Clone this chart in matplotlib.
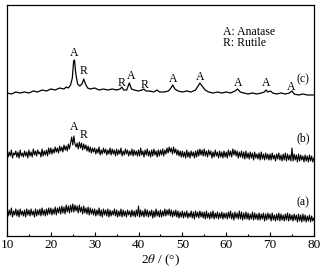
import matplotlib
matplotlib.use("Agg")
import matplotlib.pyplot as plt
from matplotlib.ticker import MultipleLocator

plt.rcParams['font.family'] = ['Liberation Serif', 'DejaVu Serif']
plt.rcParams['mathtext.fontset'] = 'stix'

# (c) trace
xc = [10,11,12,13,14,15,16,17,18,19,20,21,22,23,23.5,24,24.5,24.9,25.2,25.4,25.7,26.1,26.6,27.1,27.5,27.9,28.4,29,30,31,32,33,34,35,35.8,36.2,36.6,37.3,37.9,38.4,39,40,40.8,41.2,41.7,42.5,43.5,44.2,44.8,45.8,46.8,47.4,47.8,48.3,49,50,51,52,53,53.6,54,54.5,55.2,56,57,58,59,60,61,62,62.6,63.2,64,65,66,67,68,68.7,69.1,69.5,70.1,70.6,71.5,72.5,73.5,74.4,75,75.5,76.5,77.5,78.5,79.5,80]
yc = [143,142,144,143,144,143,145,144,146,145,147,146,148,147,149,148,151,158,175,176,162,152,150,152,157,152,148,147,148,146,147,146,147,146,147,149,146,146,153,147,146,145,146,147,145,145,144,146,144,144,145,148,151,147,145,144,145,144,146,150,153,150,146,144,143,144,143,144,143,145,147,144,143,142,143,142,143,144,146,144,145,143,142,143,142,143,145,142,141,142,141,141,141]

# (b) and (a) traces, 0.25 deg steps from 10 to 80
x_ab = [10 + 0.25 * i for i in range(281)]
yb = [85,79,84,80,86,78,83,81,85,79,84,78,86,80,83,79,85,80,84,78,
      86,80,84,79,87,81,85,80,86,82,84,79,87,80,85,81,86,80,88,82,
      88,82,87,83,89,84,88,83,90,85,89,84,91,86,90,85,92,87,93,99,
      91,100,92,89,93,87,94,88,93,86,92,87,91,85,90,84,89,83,88,84,
      88,82,87,83,89,81,86,82,88,83,87,81,86,82,88,81,87,82,86,80,
      87,81,86,82,88,80,85,81,87,82,86,80,85,81,87,80,86,81,85,80,
      86,80,88,81,85,79,86,81,87,80,85,79,86,80,87,81,85,79,86,80,
      86,81,87,80,86,82,88,83,89,84,88,82,89,83,87,81,86,80,85,79,
      85,79,84,78,86,79,84,78,85,80,84,78,85,79,86,80,87,81,86,80,
      87,80,85,79,86,81,85,78,84,79,86,80,84,78,85,79,84,78,85,79,
      84,78,86,80,85,79,87,81,86,80,85,78,84,79,85,78,84,77,85,78,
      83,77,84,78,83,76,84,78,82,77,83,76,84,77,82,76,83,77,82,76,
      82,76,83,77,81,75,82,77,83,76,81,75,82,76,83,75,82,76,81,75,
      88,75,82,76,81,74,82,75,81,76,80,74,81,75,80,74,81,75,80,74,
      78]
ya = [27,20,26,21,28,19,25,21,27,20,26,19,27,21,25,20,26,19,27,21,
      26,20,27,21,25,19,27,20,26,21,27,20,28,21,26,20,27,21,28,22,
      28,21,27,22,29,21,28,23,29,22,30,23,29,22,31,24,30,23,31,24,
      32,24,31,25,30,23,31,24,29,22,30,23,28,22,29,21,28,22,27,21,
      27,20,26,21,28,20,26,19,27,21,26,20,27,19,26,20,25,21,27,20,
      26,19,25,20,27,19,26,20,25,19,26,21,25,19,26,20,25,19,26,20,
      30,19,26,20,25,19,27,20,26,19,25,20,26,18,25,19,27,20,25,19,
      26,19,25,20,27,20,26,21,27,20,26,19,25,20,26,19,25,18,24,19,
      25,18,24,19,25,18,23,19,25,18,24,17,25,19,24,18,25,19,24,18,
      24,17,25,18,23,17,24,18,25,17,23,18,24,17,23,18,24,17,23,18,
      23,17,24,18,25,17,23,16,24,18,23,17,25,17,24,16,23,17,24,17,
      23,16,22,17,24,16,23,17,22,16,23,16,22,17,23,15,22,16,23,17,
      22,15,23,16,21,15,22,16,23,15,22,16,21,15,22,16,23,15,22,16,
      21,15,22,16,21,14,22,15,21,14,22,15,21,14,20,15,21,14,20,15,
      18]

# phase labels
lab_text = ['A','R','R','A','R','A','A','A','A','A','A','R']
lab_x = [25.3,27.5,36.2,38.3,41.3,47.9,54.0,62.7,69.2,74.9,25.3,27.5]
lab_y = [183,165,153,160,151,157,159,153,153,149,109,101]

curve_names = ['(c)','(b)','(a)']
curve_name_y = [157,98,34]

fig = plt.figure(figsize=(3.29, 2.73), dpi=100)
ax = fig.add_axes([0.0213, 0.1355, 0.9327, 0.8462])
ax.plot(xc, yc, color='black', lw=0.9)
ax.plot(x_ab, yb, color='black', lw=0.8)
ax.plot(x_ab, ya, color='black', lw=0.8)

for t, x, y in zip(lab_text, lab_x, lab_y):
    ax.text(x, y, t, ha='center', va='center', fontsize=8.5)
for t, y in zip(curve_names, curve_name_y):
    ax.text(77.5, y, t, ha='center', va='center', fontsize=8.5)

ax.text(59.3, 204, 'A: Anatase', ha='left', va='center', fontsize=8.5)
ax.text(59.3, 193, 'R: Rutile', ha='left', va='center', fontsize=8.5)

ax.set_xlim(10, 80)
ax.set_ylim(0, 231)
ax.set_yticks([])
ax.xaxis.set_major_locator(MultipleLocator(10))
ax.xaxis.set_minor_locator(MultipleLocator(5))
ax.tick_params(axis='x', which='major', direction='in', length=3, width=0.8, labelsize=9.5, pad=2)
ax.tick_params(axis='x', which='minor', direction='in', length=1.8, width=0.8)
for s in ax.spines.values():
    s.set_linewidth(0.9)
ax.set_xlabel(r'2$\it{\theta}$ / (°)', fontsize=9.5, labelpad=1)

fig.savefig('out.png', dpi=100)
